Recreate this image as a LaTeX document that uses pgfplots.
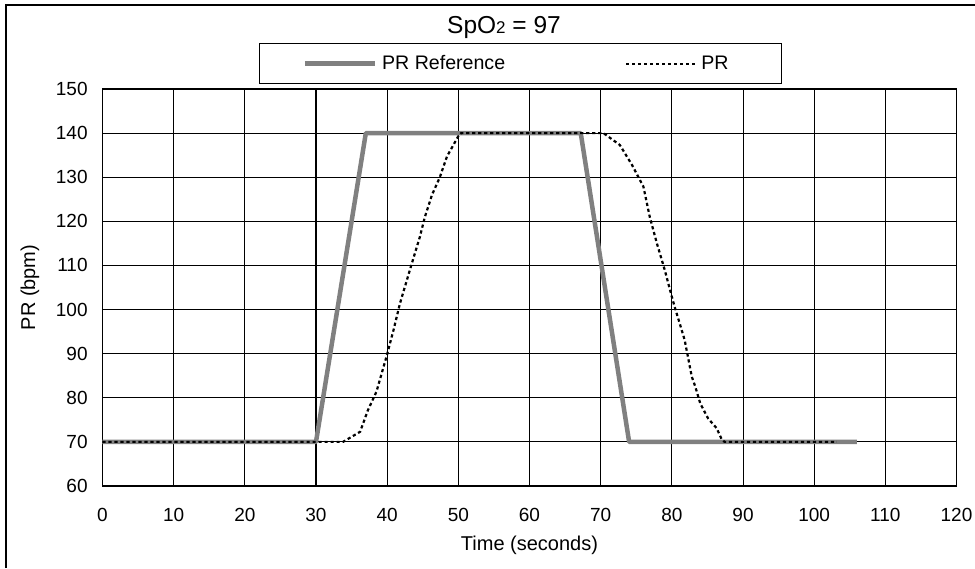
\documentclass[border=0pt]{standalone}
\usepackage{pgfplots}
\pgfplotsset{compat=1.18}
\usepackage{pgfplotstable}
\usepackage{fontspec}
\setmainfont{Liberation Sans}
\definecolor{refgray}{RGB}{128,128,128}

\pgfplotstableread{
x y
0 70
30 70
37 140
67.2 140
74 70
106 70
}\reftable

\pgfplotstableread{
x y
0 70
33.8 70
36.2 72.3
37.3 77.2
38.5 81.4
39.9 89.3
40.9 95.4
41.8 101.4
43.4 110.1
44.6 116.5
45.3 121
46.3 126
47.4 130
48.4 134.7
50.1 139.6
50.4 140
70.4 140
72.7 137.3
74.4 132.8
76.0 127.9
76.9 121
77.9 115
79.0 109
80.0 102.9
80.4 100.6
81.1 96.9
81.8 93.1
82.3 89
82.8 84.8
83.3 82.5
84.0 78.7
85.1 75.3
86.3 73.1
87.0 70.6
87.4 70
103.2 70
}\prtable

\begin{document}
\begin{tikzpicture}
\useasboundingbox (0,0) rectangle (487.5pt,-284pt);
\fill[white] (0,0) rectangle (487.5pt,-284pt);
\draw[line width=0.9pt] (3pt,-284pt) -- (3pt,-2.5pt) -- (487.5pt,-2.5pt);
\node[anchor=base, font=\fontsize{12.25}{14}\selectfont] at (252pt,-16.5pt) {SpO\raisebox{-0.4pt}{\fontsize{8.5}{9}\selectfont 2} = 97};
\begin{axis}[
  scale only axis,
  width=427pt, height=198.5pt,
  at={(51.25pt,-243pt)}, anchor=south west,
  xmin=0, xmax=120, ymin=60, ymax=150,
  xtick={0,10,...,120}, ytick={60,70,...,150},
  grid=major,
  major grid style={black, line width=0.5pt},
  axis line style={black, line width=0.6pt},
  major tick length=0pt,
  tick label style={font=\fontsize{9.5}{11}\selectfont},
  /pgf/number format/assume math mode=true,
  yticklabel style={inner sep=0pt, xshift=-7.25pt},
  xticklabel style={inner sep=0pt, yshift=-11pt},
  xlabel={Time (seconds)}, ylabel={PR (bpm)},
  label style={font=\fontsize{10}{12}\selectfont},
  xlabel style={at={(axis description cs:0.5,-0.1486)}, anchor=center},
  ylabel style={at={(axis description cs:-0.0849,0.5)}, anchor=center},
  legend columns=2,
  legend image code/.code={\draw[#1] (0pt,0pt) -- (35pt,0pt);},
  legend style={
    at={(axis description cs:0.18326,1.11587)}, anchor=north west,
    draw=black, line width=0.6pt, fill=white,
    inner xsep=21.5pt, inner ysep=5.5pt,
    column sep=0pt,
    nodes={inner sep=0pt, text height=7.2pt, text depth=1.8pt, font=\fontsize{9.8}{11}\selectfont},
  },
]
\addplot[color=refgray, line width=2.25pt, line join=round] table {\reftable};
\addlegendentry{\makebox[124pt][l]{\hspace{2.5pt}PR Reference}}
\addplot[black, line width=1.1pt, dash pattern=on 1.6pt off 1.4pt] table {\prtable};
\addlegendentry{\makebox[20.5pt][l]{\hspace{2pt}PR}}
\end{axis}
\end{tikzpicture}
\end{document}
